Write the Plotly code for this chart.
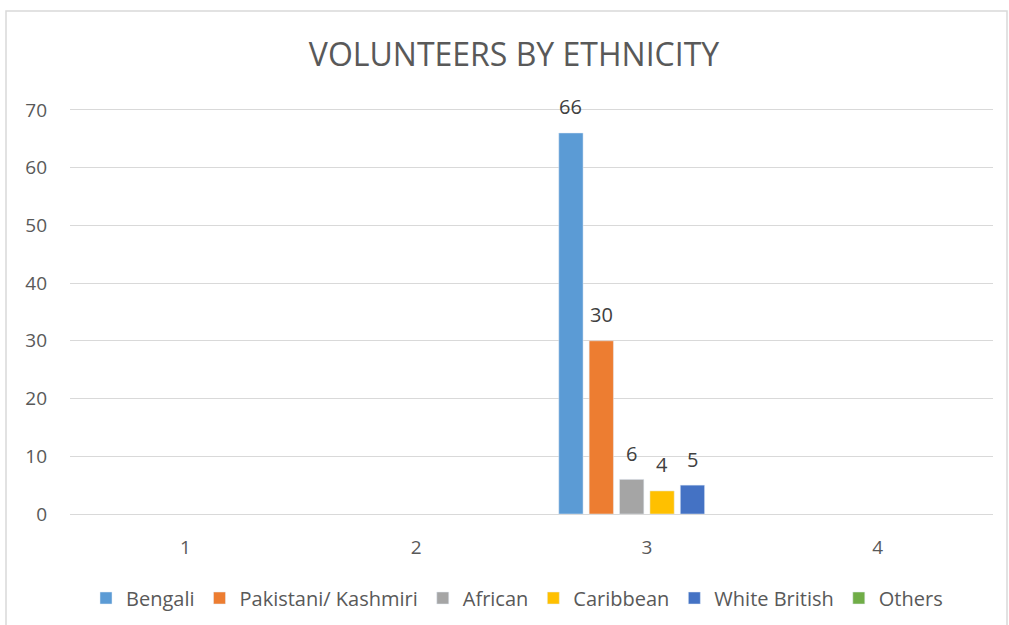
import plotly.graph_objects as go

categories = ["1", "2", "3", "4"]
series_names = ["Bengali", "Pakistani/ Kashmiri", "African", "Caribbean", "White British", "Others"]
bengali = [None, None, 66, None]
pakistani = [None, None, 30, None]
african = [None, None, 6, None]
caribbean = [None, None, 4, None]
white_british = [None, None, 5, None]
others = [None, None, None, None]
colors = ["#5B9BD5", "#ED7D31", "#A5A5A5", "#FFC000", "#4472C4", "#70AD47"]
y_ticks = [0, 10, 20, 30, 40, 50, 60, 70]

values = [bengali, pakistani, african, caribbean, white_british, others]
FONT = "Open Sans, sans-serif"

W, H = 1009, 625
L, R, T, B = 70, 16, 107, 111
pw, ph = W - L - R, H - T - B
BARGAP, GROUPGAP = 0.21, 0.2

def px(x):
    return (x - L) / pw

def py(y):
    return (H - B - y) / ph

fig = go.Figure()
for name, vals, col in zip(series_names, values, colors):
    fig.add_trace(go.Bar(x=categories, y=vals, name=name, marker_color=col))

# data labels above bars, offset like the original
n = len(series_names)
cat_px = pw / len(categories)
slot = cat_px * (1 - BARGAP) / n
annotations = []
for i, (vals, col) in enumerate(zip(values, colors)):
    for ci, v in enumerate(vals):
        if v is None:
            continue
        annotations.append(dict(
            x=ci, y=v, xref="x", yref="y", text=str(v), showarrow=False,
            xshift=(i - (n - 1) / 2) * slot, yshift=26, yanchor="middle",
            font=dict(family=FONT, size=20, color="#404040"),
        ))

fig.update_layout(
    width=W, height=H, autosize=False,
    margin=dict(l=L, r=R, t=T, b=B, autoexpand=False),
    paper_bgcolor="white", plot_bgcolor="white",
    barmode="group", bargap=BARGAP, bargroupgap=GROUPGAP,
    title=dict(text="VOLUNTEERS BY ETHNICITY", xref="container", x=514 / W, xanchor="center",
               yref="container", y=1 - 55 / H, yanchor="middle",
               font=dict(family=FONT, size=32, color="#595959")),
    xaxis=dict(type="category", showgrid=False, showline=True, linecolor="#D9D9D9",
               linewidth=1, ticks="", tickfont=dict(family=FONT, size=19, color="#595959"),
               ticklabelstandoff=16, automargin=False),
    yaxis=dict(range=[0, 70.5], tickvals=y_ticks, showgrid=True, gridcolor="#D9D9D9",
               gridwidth=1, zeroline=False, showline=False, ticks="",
               tickfont=dict(family=FONT, size=19, color="#595959"), ticklabelstandoff=22,
               automargin=False),
    legend=dict(orientation="h", x=px(517), xanchor="center", y=py(598), yanchor="middle",
                font=dict(family=FONT, size=20, color="#595959"), itemwidth=30,
                traceorder="normal"),
    showlegend=True,
    annotations=annotations,
    shapes=[dict(type="rect", xref="paper", yref="paper",
                 x0=px(6), x1=px(1007), y0=py(640), y1=py(11),
                 line=dict(color="#D9D9D9", width=1.5), fillcolor="rgba(0,0,0,0)")],
)

fig.write_html("out.html", config={"displayModeBar": False},
               post_script="document.body.style.margin='0';")
